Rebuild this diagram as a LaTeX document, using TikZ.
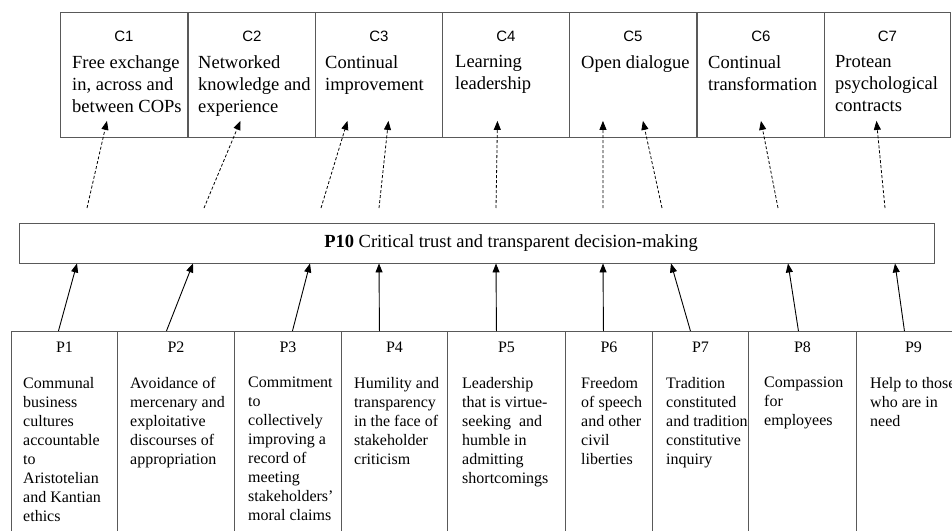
\documentclass[tikz,border=0pt]{standalone}
\usepackage{fontspec}
\setmainfont{Liberation Serif}
\setsansfont{Liberation Sans}
\usetikzlibrary{arrows.meta, positioning, calc}

\begin{document}
\begin{tikzpicture}[
    x=1pt, y=-1pt,
    cbox/.style={draw=black!65, line width=0.9pt, anchor=north west, minimum width=127pt, minimum height=125pt, inner sep=0pt},
    pbox/.style={draw=black!65, line width=0.9pt, anchor=north west, minimum height=230pt, inner sep=0pt},
    ctag/.style={font=\sffamily\fontsize{15}{17}\selectfont},
    ptag/.style={font=\fontsize{16}{19}\selectfont},
    ctext/.style={anchor=north west, align=left, inner sep=0pt, font=\fontsize{18.5}{22}\selectfont},
    ptext/.style={anchor=north west, align=left, inner sep=0pt, font=\fontsize{16}{19}\selectfont},
    arrow/.style={-{Triangle[length=9pt, width=7pt]}, line width=0.9pt},
    dasharrow/.style={arrow, dash pattern=on 3pt off 2pt, line width=0.8pt}
]
    \useasboundingbox (0,0) rectangle (952,530);
    \clip (0,0) rectangle (952,530);

    % Top row: C boxes
    \node[cbox] (c1) at (60,12) {};
    \node[cbox] (c2) at (188,12) {};
    \node[cbox] (c3) at (315,12) {};
    \node[cbox] (c4) at (442,12) {};
    \node[cbox] (c5) at (569,12) {};
    \node[cbox] (c6) at (697,12) {};
    \node[cbox, minimum width=126pt] (c7) at (824,12) {};

    \node[ctag] (c1tag) at ([yshift=-24pt]c1.north) {C1};
    \node[ctag] (c2tag) at ([yshift=-24pt]c2.north) {C2};
    \node[ctag] (c3tag) at ([yshift=-24pt]c3.north) {C3};
    \node[ctag] (c4tag) at ([yshift=-24pt]c4.north) {C4};
    \node[ctag] (c5tag) at ([yshift=-24pt]c5.north) {C5};
    \node[ctag] (c6tag) at ([yshift=-24pt]c6.north) {C6};
    \node[ctag] (c7tag) at ([yshift=-24pt]c7.north) {C7};

    \node[ctext] (c1txt) at ([xshift=12pt, yshift=-43pt]c1.north west) {Free exchange\\in, across and\\between COPs};
    \node[ctext] (c2txt) at ([xshift=10pt, yshift=-43pt]c2.north west) {Networked\\knowledge and\\experience};
    \node[ctext] (c3txt) at ([xshift=10pt, yshift=-43pt]c3.north west) {Continual\\improvement};
    \node[ctext] (c4txt) at ([xshift=13pt, yshift=-43pt]c4.north west) {Learning\\leadership};
    \node[ctext] (c5txt) at ([xshift=12pt, yshift=-43pt]c5.north west) {Open dialogue};
    \node[ctext] (c6txt) at ([xshift=11pt, yshift=-43pt]c6.north west) {Continual\\transformation};
    \node[ctext] (c7txt) at ([xshift=11pt, yshift=-43pt]c7.north west) {Protean\\psychological\\contracts};

    % Middle bar
    \node[draw=black!65, line width=0.9pt, minimum width=915pt, minimum height=40pt, inner sep=0pt] (bar) at (476.5,243) {};
    \node[font=\fontsize{18.5}{22}\selectfont] (bartxt) at ([xshift=34.5pt]bar.center) {\textbf{P10} Critical trust and transparent decision-making};

    % Bottom row: P boxes
    \node[pbox, minimum width=106pt] (p1) at (11,331) {};
    \node[pbox, minimum width=117pt] (p2) at (117,331) {};
    \node[pbox, minimum width=107pt] (p3) at (234,331) {};
    \node[pbox, minimum width=106pt] (p4) at (341,331) {};
    \node[pbox, minimum width=118pt] (p5) at (447,331) {};
    \node[pbox, minimum width=87pt] (p6) at (565,331) {};
    \node[pbox, minimum width=96pt] (p7) at (652,331) {};
    \node[pbox, minimum width=108pt] (p8) at (748,331) {};
    \node[pbox, minimum width=114pt] (p9) at (856,331) {};

    \node[ptag] (p1tag) at ([yshift=-16pt]p1.north) {P1};
    \node[ptag] (p2tag) at ([yshift=-16pt]p2.north) {P2};
    \node[ptag] (p3tag) at ([yshift=-16pt]p3.north) {P3};
    \node[ptag] (p4tag) at ([yshift=-16pt]p4.north) {P4};
    \node[ptag] (p5tag) at ([yshift=-16pt]p5.north) {P5};
    \node[ptag] (p6tag) at ([yshift=-16pt]p6.north) {P6};
    \node[ptag] (p7tag) at ([yshift=-16pt]p7.north) {P7};
    \node[ptag] (p8tag) at ([yshift=-16pt]p8.north) {P8};
    \node[ptag] (p9tag) at ([yshift=-16pt]p9.north) {P9};

    \node[ptext] (p1txt) at ([xshift=12pt, yshift=-46pt]p1.north west) {Communal\\business\\cultures\\accountable\\to\\Aristotelian\\and Kantian\\ethics};
    \node[ptext] (p2txt) at ([xshift=13pt, yshift=-46pt]p2.north west) {Avoidance of\\mercenary and\\exploitative\\discourses of\\appropriation};
    \node[ptext] (p3txt) at ([xshift=14pt, yshift=-46pt]p3.north west) {Commitment\\to\\collectively\\improving a\\record of\\meeting\\stakeholders’\\moral claims};
    \node[ptext] (p4txt) at ([xshift=13pt, yshift=-46pt]p4.north west) {Humility and\\transparency\\in the face of\\stakeholder\\criticism};
    \node[ptext] (p5txt) at ([xshift=15pt, yshift=-46pt]p5.north west) {Leadership\\that is virtue-\\seeking\ \ and\\humble in\\admitting\\shortcomings};
    \node[ptext] (p6txt) at ([xshift=16pt, yshift=-46pt]p6.north west) {Freedom\\of speech\\and other\\civil\\liberties};
    \node[ptext] (p7txt) at ([xshift=14pt, yshift=-46pt]p7.north west) {Tradition\\constituted\\and tradition\\constitutive\\inquiry};
    \node[ptext] (p8txt) at ([xshift=16pt, yshift=-46pt]p8.north west) {Compassion\\for\\employees};
    \node[ptext] (p9txt) at ([xshift=14pt, yshift=-46pt]p9.north west) {Help to those\\who are in\\need};

    % P -> P10
    \draw[arrow] ([xshift=-6pt]p1.north) -- ([xshift=-399.5pt]bar.south);
    \draw[arrow] ([xshift=-9.5pt]p2.north) -- ([xshift=-283.5pt]bar.south);
    \draw[arrow] ([xshift=4.5pt]p3.north) -- ([xshift=-166.5pt]bar.south);
    \draw[arrow] ([xshift=-15pt]p4.north) -- ([xshift=-97.5pt]bar.south);
    \draw[arrow] ([xshift=-10pt]p5.north) -- ([xshift=19.5pt]bar.south);
    \draw[arrow] ([xshift=-5.5pt]p6.north) -- ([xshift=126.5pt]bar.south);
    \draw[arrow] ([xshift=-10pt]p7.north) -- ([xshift=194.5pt]bar.south);
    \draw[arrow] ([xshift=-4pt]p8.north) -- ([xshift=311.5pt]bar.south);
    \draw[arrow] ([xshift=-9pt]p9.north) -- ([xshift=418.5pt]bar.south);

    % P10 -> C (dashed, free ends above the bar)
    \coordinate (d1) at (87,208);
    \coordinate (d2) at (204,208);
    \coordinate (d3a) at (321,208);
    \coordinate (d3b) at (379,208);
    \coordinate (d4) at (496,208);
    \coordinate (d5a) at (603,208);
    \coordinate (d5b) at (662,208);
    \coordinate (d6) at (778,208);
    \coordinate (d7) at (885,208);

    \draw[dasharrow] (d1) -- ([xshift=-17pt, yshift=17pt]c1.south);
    \draw[dasharrow] (d2) -- ([xshift=-11.5pt, yshift=17pt]c2.south);
    \draw[dasharrow] (d3a) -- ([xshift=-31.5pt, yshift=17pt]c3.south);
    \draw[dasharrow] (d3b) -- ([xshift=9.5pt, yshift=17pt]c3.south);
    \draw[dasharrow] (d4) -- ([xshift=-8.5pt, yshift=17pt]c4.south);
    \draw[dasharrow] (d5a) -- ([xshift=-30pt, yshift=17pt]c5.south);
    \draw[dasharrow] (d5b) -- ([xshift=10pt, yshift=17pt]c5.south);
    \draw[dasharrow] (d6) -- ([xshift=0pt, yshift=17pt]c6.south);
    \draw[dasharrow] (d7) -- ([xshift=-11pt, yshift=17pt]c7.south);

\end{tikzpicture}
\end{document}
